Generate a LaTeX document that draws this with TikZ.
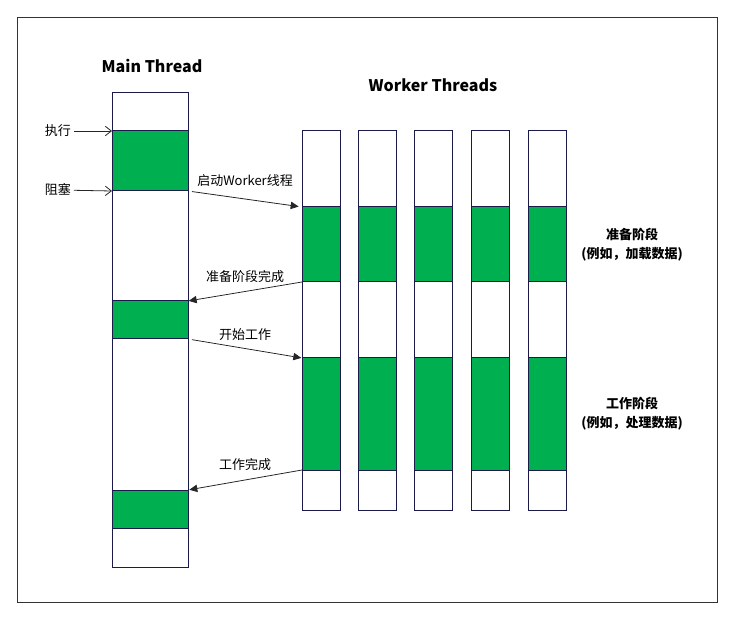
\documentclass[tikz,border=0pt]{standalone}
\usepackage{fontspec}
\setmainfont{Noto Sans CJK SC}
\usetikzlibrary{arrows.meta}
\definecolor{colline}{HTML}{1B1B4B}
\definecolor{colgreen}{HTML}{00B050}

\begin{document}
\begin{tikzpicture}[x=0.75pt,y=-0.75pt,
  col/.style={draw=colline, line width=0.75pt, fill=white, inner sep=0pt, outer sep=0pt, anchor=north west},
  blk/.style={col, fill=colgreen},
  lbl/.style={font=\fontsize{9.75}{12}\selectfont, inner sep=2pt},
  ttl/.style={font=\fontsize{12}{14}\selectfont\bfseries},
  phase/.style={font=\fontsize{9.75}{14.25}\selectfont\bfseries, align=center},
  tip/.style={-{Straight Barb[length=4.5pt,width=7pt]}, line width=0.6pt, black!85},
  msg/.style={-{Triangle[length=6pt,width=5.5pt]}, line width=0.6pt, black!85}]

\useasboundingbox (0,0) rectangle (736,620);
\draw[line width=0.75pt, black!80] (17.5,17.5) rectangle (717.5,602.5);

% main thread
\node[ttl] (maintitle) at (152,66) {Main Thread};
\node[col, minimum width=57pt, minimum height=355.5pt] (main) at (112,93) {};
\node[blk, minimum width=57pt, minimum height=45pt] (mainA) at (112,131) {};
\node[blk, minimum width=57pt, minimum height=28.5pt] (mainB) at (112,301) {};
\node[blk, minimum width=57pt, minimum height=28.5pt] (mainC) at (112,490) {};

\node[lbl] (exec) at (58,131) {执行};
\node[lbl] (block) at (58,190) {阻塞};
\draw[tip] (exec) -- (mainA.north west);
\draw[tip] (block) -- (mainA.south west);

% worker threads
\node[ttl] (worktitle) at (433,85) {Worker Threads};
\foreach \x [count=\i] in {302,358,414,471,528} {
  \node[col, minimum width=28.5pt, minimum height=284.25pt] (wk\i) at (\x,131) {};
  \node[blk, minimum width=28.5pt, minimum height=56.25pt] (wkprep\i) at (\x,207) {};
  \node[blk, minimum width=28.5pt, minimum height=84pt] (wkwork\i) at (\x,358) {};
}

\node[phase] (prep) at (632,244.5) {准备阶段\\(例如，加载数据)};
\node[phase] (work) at (632,414) {工作阶段\\(例如，处理数据)};

% messages
\node[lbl] (start) at (245,181) {启动Worker线程};
\node[lbl] (ready) at (245,277) {准备阶段完成};
\node[lbl] (go) at (245,335) {开始工作};
\node[lbl] (done) at (245,465) {工作完成};
\draw[msg, shorten <=3pt, shorten >=2.5pt] (mainA.south east) -- (wkprep1.north west);
\draw[msg, shorten >=0.5pt] (wkprep1.south west) -- (mainB.north east);
\draw[msg, shorten <=3pt, shorten >=0.5pt] (mainB.south east) -- (wkwork1.north west);
\draw[msg, shorten >=1pt] (wkwork1.south west) -- (mainC.north east);
\end{tikzpicture}
\end{document}
